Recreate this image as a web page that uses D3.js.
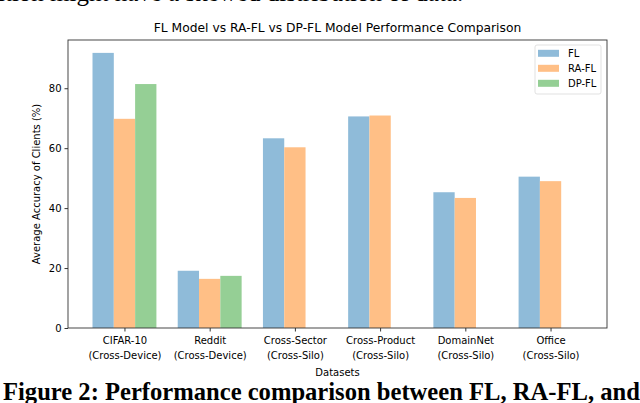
<!DOCTYPE html>
<html>
<head>
<meta charset="utf-8">
<script src="https://cdn.jsdelivr.net/npm/d3@7"></script>
<style>
  body { margin: 0; background: #fff; }
  svg { display: block; }
  text { font-family: "DejaVu Sans", sans-serif; fill: #000; }
  .serif { font-family: "Liberation Serif", "Times New Roman", serif; }
</style>
</head>
<body>
<div id="chart"></div>
<script>
// data
const datasets = ["CIFAR-10", "Reddit", "Cross-Sector", "Cross-Product", "DomainNet", "Office"];
const settings = ["(Cross-Device)", "(Cross-Device)", "(Cross-Silo)", "(Cross-Silo)", "(Cross-Silo)", "(Cross-Silo)"];
const flValues = [91.8, 19.1, 63.3, 70.6, 45.3, 50.5];
const raflValues = [69.8, 16.4, 60.3, 70.9, 43.4, 49.0];
const dpflValues = [81.4, 17.4, 0, 0, 0, 0];
const seriesNames = ["FL", "RA-FL", "DP-FL"];
const seriesColors = ["#8fbbd9", "#ffbf86", "#95cf95"];
const yTicks = [0, 20, 40, 60, 80];

const width = 640;
const height = 403;
const margin = { top: 40, right: 33, bottom: 75, left: 68 };
const barWidth = 0.25;
const fontSize = "10px";

const svg = d3.select("#chart")
    .append("svg")
    .attr("width", width)
    .attr("height", height);

// surrounding paper text, cut off by the crop
svg.append("text")
    .attr("class", "serif")
    .attr("x", -2)
    .attr("y", 1)
    .style("font-size", "25px")
    .text("ition might have a skewed distribution of data.");

svg.append("text")
    .attr("class", "serif")
    .attr("x", 3)
    .attr("y", 400)
    .style("font-size", "24.6px")
    .style("font-weight", "bold")
    .text("Figure 2: Performance comparison between FL, RA-FL, and");

const x = d3.scaleLinear()
    .domain([-0.6625, 5.6625])
    .range([margin.left, width - margin.right]);

const y = d3.scaleLinear()
    .domain([0, 96.1])
    .range([height - margin.bottom, margin.top]);

const series = [flValues, raflValues, dpflValues];

series.forEach((values, s) => {
    svg.append("g")
        .selectAll("rect")
        .data(values)
        .enter()
        .append("rect")
        .attr("x", (d, i) => x(i + (s - 1) * barWidth - barWidth / 2))
        .attr("width", x(barWidth) - x(0))
        .attr("y", d => y(d))
        .attr("height", d => y(0) - y(d))
        .attr("fill", seriesColors[s]);
});

// axes
const yAxis = svg.append("g")
    .attr("transform", `translate(${margin.left},0)`)
    .call(d3.axisLeft(y).tickValues(yTicks).tickSize(3.5).tickPadding(3));

const xAxis = svg.append("g")
    .attr("transform", `translate(0,${height - margin.bottom})`)
    .call(d3.axisBottom(x).tickValues(d3.range(datasets.length)).tickSize(3.5).tickFormat(""));

[xAxis, yAxis].forEach(g => {
    g.select(".domain").remove();
    g.selectAll("line").attr("stroke", "#000").attr("stroke-width", 0.8);
    g.selectAll("text").style("font-size", fontSize).attr("fill", "#000");
});

xAxis.selectAll(".tick")
    .append("text")
    .attr("text-anchor", "middle")
    .style("font-size", fontSize)
    .selectAll("tspan")
    .data(i => [datasets[i], settings[i]])
    .enter()
    .append("tspan")
    .attr("x", 0)
    .attr("y", (d, k) => 16 + k * 14.5)
    .text(d => d);

// frame
svg.append("rect")
    .attr("x", margin.left)
    .attr("y", margin.top)
    .attr("width", width - margin.left - margin.right)
    .attr("height", height - margin.top - margin.bottom)
    .attr("fill", "none")
    .attr("stroke", "#333")
    .attr("stroke-width", 0.9);

// titles
svg.append("text")
    .attr("x", (margin.left + width - margin.right) / 2)
    .attr("y", 32)
    .attr("text-anchor", "middle")
    .style("font-size", "12.3px")
    .text("FL Model vs RA-FL vs DP-FL Model Performance Comparison");

svg.append("text")
    .attr("x", (margin.left + width - margin.right) / 2)
    .attr("y", 376)
    .attr("text-anchor", "middle")
    .style("font-size", fontSize)
    .text("Datasets");

svg.append("text")
    .attr("transform", `translate(40,${(margin.top + height - margin.bottom) / 2}) rotate(-90)`)
    .attr("text-anchor", "middle")
    .style("font-size", fontSize)
    .text("Average Accuracy of Clients (%)");

// legend
const legend = svg.append("g")
    .attr("transform", "translate(535,45)");

legend.append("rect")
    .attr("width", 66)
    .attr("height", 49)
    .attr("rx", 2)
    .attr("fill", "#fff")
    .attr("fill-opacity", 0.8)
    .attr("stroke", "#d9d9d9")
    .attr("stroke-width", 0.8);

const item = legend.selectAll(".item")
    .data(seriesNames)
    .enter()
    .append("g")
    .attr("transform", (d, i) => `translate(0,${8.3 + i * 15})`);

item.append("rect")
    .attr("x", 3)
    .attr("y", -3.5)
    .attr("width", 21)
    .attr("height", 7)
    .attr("fill", (d, i) => seriesColors[i]);

item.append("text")
    .attr("x", 33)
    .attr("y", 3.5)
    .style("font-size", fontSize)
    .text(d => d);
</script>
</body>
</html>
